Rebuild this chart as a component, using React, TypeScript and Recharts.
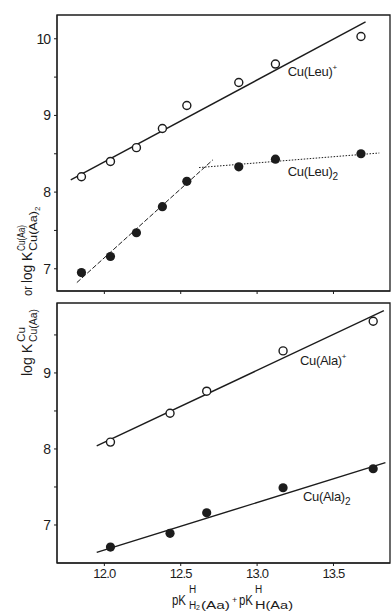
import React from 'react';
import { ComposedChart, Scatter, Line, XAxis, YAxis, ReferenceArea, ReferenceDot } from 'recharts';

// upper panel: leucine
const leuPK = [11.85, 12.04, 12.21, 12.38, 12.54, 12.88, 13.12, 13.68];
const leuMono = [8.2, 8.4, 8.58, 8.83, 9.13, 9.43, 9.67, 10.03];
const leuBis = [6.95, 7.16, 7.47, 7.81, 8.14, 8.33, 8.43, 8.5];

// lower panel: alanine
const alaPK = [12.04, 12.43, 12.67, 13.17, 13.76];
const alaMono = [8.09, 8.47, 8.76, 9.29, 9.68];
const alaBis = [6.71, 6.89, 7.16, 7.49, 7.74];

// drawn regression lines (end points)
const leuMonoFitX = [11.78, 13.71];
const leuMonoFitY = [8.16, 10.22];
const leuBisLowX = [11.82, 12.71];
const leuBisLowY = [6.82, 8.42];
const leuBisHighX = [12.62, 13.8];
const leuBisHighY = [8.32, 8.51];
const alaMonoFitX = [11.95, 13.83];
const alaMonoFitY = [8.04, 9.82];
const alaBisFitX = [11.95, 13.84];
const alaBisFitY = [6.64, 7.82];

const xTicks = [12.0, 12.5, 13.0, 13.5];
const topYTicks = [7, 7.5, 8, 8.5, 9, 9.5, 10];
const bottomYTicks = [7, 7.5, 8, 8.5, 9, 9.5];

const xDomain = [11.69, 13.87];
const topYDomain = [6.71, 10.31];
const bottomYDomain = [6.5, 9.92];

const INK = '#1c1c1c';
const FONT = '"Liberation Sans", Arial, sans-serif';

const pts = (xs: number[], ys: number[]) => xs.map((x, i) => ({ x, y: ys[i] }));

const openDot = (p: any) => <circle cx={p.cx} cy={p.cy} r={4} fill="#fff" stroke={INK} strokeWidth={1.4} />;
const fullDot = (p: any) => <circle cx={p.cx} cy={p.cy} r={4.6} fill={INK} />;

const Species = ({ cx, cy, name, sup, sub }: any) => (
  <text x={cx} y={cy} fontSize={13} fill={INK} fontFamily={FONT} letterSpacing={-0.3}>
    {name}
    {sup && <tspan dy={-6} fontSize={8}>{sup}</tspan>}
    {sub && <tspan dy={4} fontSize={10}>{sub}</tspan>}
  </text>
);

const intLabel = (v: number) => (Number.isInteger(v) ? String(v) : '');

const Panel = ({ top, height, margin, xAxisHeight, showX, yDomain, yTicks, children }: any) => (
  <div style={{ position: 'absolute', left: 0, top }}>
    <ComposedChart width={391} height={height} margin={margin}>
      <XAxis
        type="number"
        dataKey="x"
        domain={xDomain}
        allowDataOverflow
        ticks={xTicks}
        tickFormatter={(v: number) => (showX ? v.toFixed(1) : '')}
        height={xAxisHeight}
        tickSize={3}
        tickMargin={3}
        stroke={INK}
        tick={{ fill: INK, fontSize: 13, fontFamily: FONT, letterSpacing: -0.8 }}
      />
      <YAxis
        type="number"
        dataKey="y"
        domain={yDomain}
        allowDataOverflow
        ticks={yTicks}
        tickFormatter={intLabel}
        width={47}
        tickSize={3}
        tickMargin={4}
        stroke={INK}
        tick={{ fill: INK, fontSize: 14, fontFamily: FONT, letterSpacing: -1 }}
      />
      <ReferenceArea
        x1={xDomain[0]}
        x2={xDomain[1]}
        y1={yDomain[0]}
        y2={yDomain[1]}
        fill="none"
        stroke={INK}
        strokeWidth={1.3}
        ifOverflow="visible"
      />
      {children}
    </ComposedChart>
  </div>
);

export default function App() {
  return (
    <div style={{ position: 'absolute', left: 0, top: 0, width: 391, height: 613, background: '#fff' }}>
      <Panel
        top={0}
        height={298}
        margin={{ top: 15, right: 1, bottom: 0, left: 10 }}
        xAxisHeight={7}
        showX={false}
        yDomain={topYDomain}
        yTicks={topYTicks}
      >
        <Line data={pts(leuMonoFitX, leuMonoFitY)} dataKey="y" type="linear" stroke={INK} strokeWidth={1.4} dot={false} isAnimationActive={false} />
        <Line data={pts(leuBisLowX, leuBisLowY)} dataKey="y" type="linear" stroke={INK} strokeWidth={1} strokeDasharray="5 2" dot={false} isAnimationActive={false} />
        <Line data={pts(leuBisHighX, leuBisHighY)} dataKey="y" type="linear" stroke={INK} strokeWidth={1} strokeDasharray="1.5 1.5" dot={false} isAnimationActive={false} />
        <Scatter data={pts(leuPK, leuMono)} shape={openDot} isAnimationActive={false} />
        <Scatter data={pts(leuPK, leuBis)} shape={fullDot} isAnimationActive={false} />
        <ReferenceDot x={13.2} y={9.52} r={1} shape={(p: any) => <Species cx={p.cx} cy={p.cy} name="Cu(Leu)" sup="+" />} />
        <ReferenceDot x={13.2} y={8.21} r={1} shape={(p: any) => <Species cx={p.cx} cy={p.cy} name="Cu(Leu)" sub="2" />} />
      </Panel>
      <Panel
        top={298}
        height={295}
        margin={{ top: 5, right: 1, bottom: 0, left: 10 }}
        xAxisHeight={30}
        showX
        yDomain={bottomYDomain}
        yTicks={bottomYTicks}
      >
        <Line data={pts(alaMonoFitX, alaMonoFitY)} dataKey="y" type="linear" stroke={INK} strokeWidth={1.4} dot={false} isAnimationActive={false} />
        <Line data={pts(alaBisFitX, alaBisFitY)} dataKey="y" type="linear" stroke={INK} strokeWidth={1.4} dot={false} isAnimationActive={false} />
        <Scatter data={pts(alaPK, alaMono)} shape={openDot} isAnimationActive={false} />
        <Scatter data={pts(alaPK, alaBis)} shape={fullDot} isAnimationActive={false} />
        <ReferenceDot x={13.28} y={9.1} r={1} shape={(p: any) => <Species cx={p.cx} cy={p.cy} name="Cu(Ala)" sup="+" />} />
        <ReferenceDot x={13.3} y={7.32} r={1} shape={(p: any) => <Species cx={p.cx} cy={p.cy} name="Cu(Ala)" sub="2" />} />
      </Panel>
      <svg width={391} height={613} style={{ position: 'absolute', left: 0, top: 0, pointerEvents: 'none' }}>
        <g fill={INK} fontFamily={FONT}>
          {/* y axis title, rotated */}
          <g transform="translate(32, 378) rotate(-90)">
            <text x={2} y={0} fontSize={14} textLength={32} lengthAdjust="spacingAndGlyphs">log K</text>
            <text x={36} y={-7} fontSize={10} textLength={15} lengthAdjust="spacingAndGlyphs">Cu</text>
            <text x={36} y={5} fontSize={10} textLength={33} lengthAdjust="spacingAndGlyphs">Cu(Aa)</text>
            <text x={82} y={0} fontSize={13} textLength={10} lengthAdjust="spacingAndGlyphs">or</text>
            <text x={95} y={0} fontSize={14} textLength={31} lengthAdjust="spacingAndGlyphs">log K</text>
            <text x={127} y={-7} fontSize={10} textLength={26} lengthAdjust="spacingAndGlyphs">Cu(Aa)</text>
            <text x={127} y={5} fontSize={10} textLength={40} lengthAdjust="spacingAndGlyphs">Cu(Aa)</text>
            <text x={167} y={8} fontSize={8}>2</text>
          </g>
          {/* x axis title */}
          <text x={172} y={605} fontSize={14} textLength={14} lengthAdjust="spacingAndGlyphs">pK</text>
          <text x={189} y={593} fontSize={10}>H</text>
          <text x={189} y={609} fontSize={10}>H</text>
          <text x={196} y={610} fontSize={7}>2</text>
          <text x={201} y={609} fontSize={10} textLength={29} lengthAdjust="spacingAndGlyphs">(Aa)</text>
          <text x={232} y={603} fontSize={9}>+</text>
          <text x={239} y={605} fontSize={14} textLength={14} lengthAdjust="spacingAndGlyphs">pK</text>
          <text x={255} y={593} fontSize={10}>H</text>
          <text x={255} y={609} fontSize={10} textLength={38} lengthAdjust="spacingAndGlyphs">H(Aa)</text>
        </g>
      </svg>
    </div>
  );
}
